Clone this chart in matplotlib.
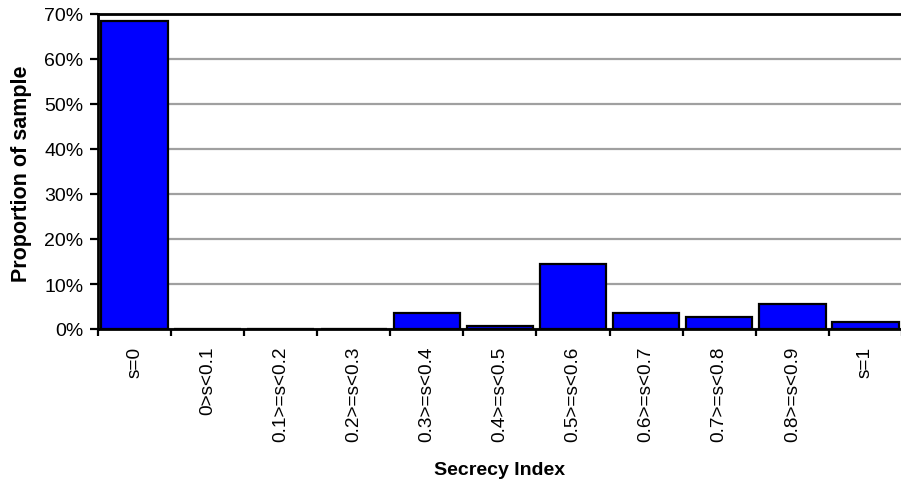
import matplotlib
matplotlib.use("Agg")
import matplotlib.pyplot as plt
from matplotlib.ticker import PercentFormatter, FixedLocator

categories = ["s=0", "0>s<0.1", "0.1>=s<0.2", "0.2>=s<0.3", "0.3>=s<0.4",
              "0.4>=s<0.5", "0.5>=s<0.6", "0.6>=s<0.7", "0.7>=s<0.8",
              "0.8>=s<0.9", "s=1"]
proportions = [68.4, 0.0, 0.0, 0.0, 3.5, 0.7, 14.5, 3.5, 2.7, 5.5, 1.5]
y_ticks = [0, 10, 20, 30, 40, 50, 60, 70]

plt.rcParams["font.family"] = ["Liberation Sans", "DejaVu Sans"]

fig = plt.figure(figsize=(9.01, 4.85), dpi=100)
ax = fig.add_axes([98 / 901, 1 - 330 / 485, 1 - 98 / 901 + 0.001, (330 - 15) / 485])

x = list(range(len(categories)))
ax.bar(x, proportions, width=0.91, color="#0000ff", edgecolor="black",
       linewidth=1.6, zorder=3)

ax.set_xlim(-0.5, len(categories) - 0.5)
ax.set_ylim(0, 70)
ax.set_yticks(y_ticks)
ax.yaxis.set_major_formatter(PercentFormatter(decimals=0))
ax.yaxis.grid(True, color="#a0a0a0", linewidth=1.6, zorder=0)

# category labels at centers, tick marks at category boundaries
ax.xaxis.set_major_locator(FixedLocator([i - 0.5 for i in range(len(categories) + 1)]))
ax.set_xticklabels([])
ax.xaxis.set_minor_locator(FixedLocator(x))
ax.set_xticklabels(categories, minor=True, rotation=90, fontsize=13.7)
ax.tick_params(axis="x", which="minor", length=0, pad=12)
ax.tick_params(axis="x", which="major", length=5, width=1.6, direction="out")
ax.tick_params(axis="y", length=5.5, width=1.6, direction="out", labelsize=14, pad=5)

for side in ("left", "bottom", "top"):
    ax.spines[side].set_linewidth(2)
    ax.spines[side].set_color("black")
ax.spines["right"].set_visible(False)

ax.set_ylabel("Proportion of sample", fontsize=15.5, fontweight="bold")
ax.yaxis.set_label_coords(-0.082, 0.495)
ax.set_xlabel("Secrecy Index", fontsize=14, fontweight="bold", labelpad=14)

fig.savefig("out.png", dpi=100)
